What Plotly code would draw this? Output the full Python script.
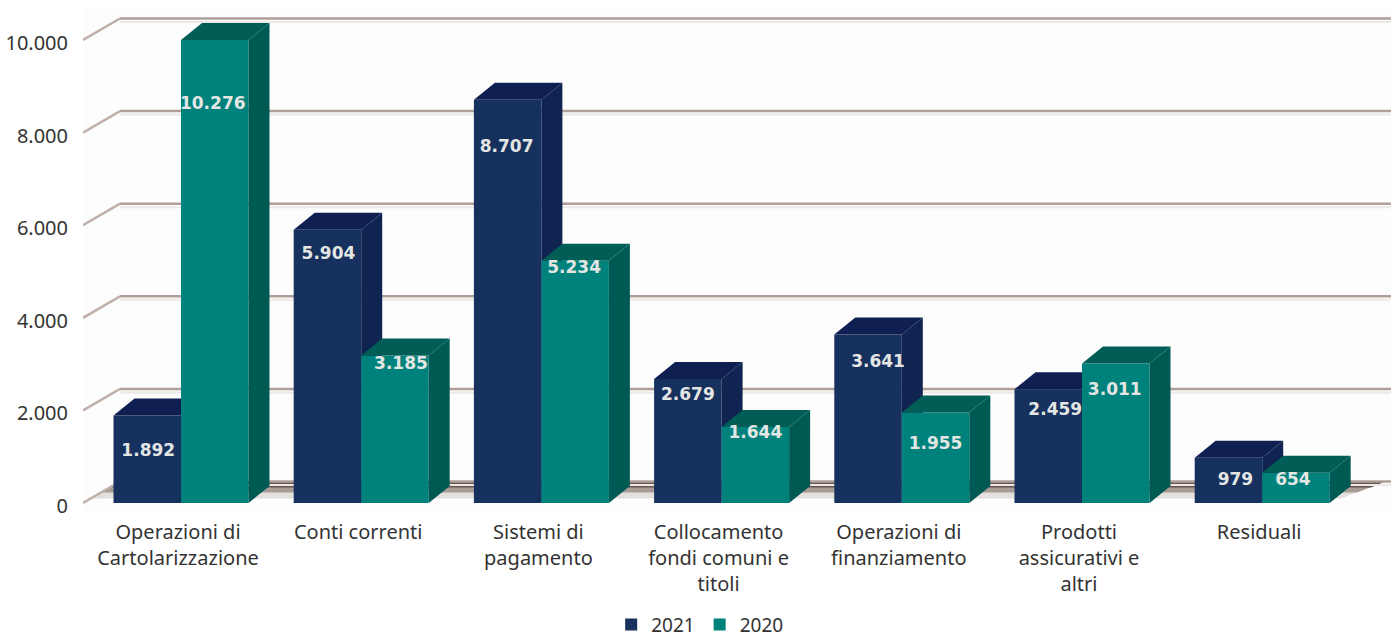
import plotly.graph_objects as go

categories = ["Operazioni di<br>Cartolarizzazione", "Conti correnti", "Sistemi di<br>pagamento",
              "Collocamento<br>fondi comuni e<br>titoli", "Operazioni di<br>finanziamento",
              "Prodotti<br>assicurativi e<br>altri", "Residuali"]
values_2021 = [1892, 5904, 8707, 2679, 3641, 2459, 979]
values_2020 = [10276, 3185, 5234, 1644, 1955, 3011, 654]
y_ticks = [0, 2000, 4000, 6000, 8000, 10000]
y_tick_labels = ["0", "2.000", "4.000", "6.000", "8.000", "10.000"]

# where the value labels sit in the picture, relative to the bar's front top / centre (pixels)
drop_2021 = [36, 25, 48, 17, 28, 22, 23]
drop_2020 = [65, 9, 8, 7, 32, 27, 8]
shift_2021 = [1, 1, -1, 0, 10, 7, 7]
shift_2020 = [-2, 6, -1, 0, 0, -1, -3]

# pixel geometry of the plot
W, H = 1391, 644
L, R, T, B = 83, 1391, 8, 512
STEP = 180.2          # px per category
C0 = 181              # px of first category centre
PX_UNIT = 0.0463      # px per value unit
Y0 = 503              # px of value 0 on the front plane
AX_MAX = 10000        # the bars are cut off at the axis maximum

xr = [(L - C0) / STEP, (R - C0) / STEP]
yr = [(Y0 - B) / PX_UNIT, (Y0 - T) / PX_UNIT]
dxpx = lambda p: p / STEP
dypx = lambda p: p / PX_UNIT

BAR_W = dxpx(67.5)
DX, DY = dxpx(21), dypx(17)           # bar depth
GX, GY = dxpx(37), dypx(21.5)         # wall depth

NAVY, NAVY_D, NAVY_S = "#17315f", "#101f52", "#0f2450"
TEAL, TEAL_D, TEAL_S = "#00827c", "#005e57", "#005a54"

fig = go.Figure()


def prism(vals, offset, front, top, side, yaxis, name):
    xs = [i + offset for i in range(len(vals))]
    shown = [min(v, AX_MAX) for v in vals]
    fig.add_trace(go.Bar(x=xs, y=shown, width=BAR_W, marker=dict(color=front, line=dict(width=0)),
                         name=name, yaxis=yaxis, hoverinfo="skip"))
    for x, v in zip(xs, shown):
        l, r = x - BAR_W / 2, x + BAR_W / 2
        fig.add_trace(go.Scatter(x=[l, l + DX, r + DX, r, l], y=[v, v + DY, v + DY, v, v], mode="lines",
                                 line=dict(width=0), fill="toself", fillcolor=top, yaxis=yaxis,
                                 showlegend=False, hoverinfo="skip"))
        fig.add_trace(go.Scatter(x=[r, r + DX, r + DX, r, r], y=[v, v + DY, DY, 0, v], mode="lines",
                                 line=dict(width=0), fill="toself", fillcolor=side, yaxis=yaxis,
                                 showlegend=False, hoverinfo="skip"))


half = BAR_W / 2
prism(values_2021, -half, NAVY, NAVY_D, NAVY_S, "y", "2021")
prism(values_2020, half, TEAL, TEAL_D, TEAL_S, "y2", "2020")


def fmt(v):
    return f"{v:,}".replace(",", ".")


lab_x, lab_y, lab_t = [], [], []
for vals, off, drops, shifts in ((values_2021, -half, drop_2021, shift_2021),
                                 (values_2020, half, drop_2020, shift_2020)):
    for i, v in enumerate(vals):
        lab_x.append(i + off + dxpx(shifts[i]))
        lab_y.append(min(v, AX_MAX) - dypx(drops[i]))
        lab_t.append(fmt(v))
fig.add_trace(go.Scatter(x=lab_x, y=lab_y, text=lab_t, mode="text", yaxis="y2", showlegend=False,
                         textfont=dict(family="DejaVu Sans", size=17, color="#e4e6e4", weight="bold"),
                         hoverinfo="skip", cliponaxis=False))

# back wall and floor
shapes = []
x_left, x_right = xr[0], xr[1]
for fill, depth, right_in in (("#e4e0dd", 17, 50), ("#a89c96", 11, 34), ("#645650", 6, 20)):
    shapes.append(dict(type="path", layer="below", line=dict(width=0), fillcolor=fill,
                       path=f"M {x_left + GX - dxpx(depth * 1.6)} {GY - dypx(depth)} L {x_left + GX} {GY} "
                            f"L {x_right - dxpx(6)} {GY} L {x_right - dxpx(right_in)} {GY - dypx(depth)} Z"))
for t in y_ticks:
    shapes.append(dict(type="line", layer="below", x0=x_left + GX, x1=x_right,
                       y0=t + GY - dypx(3.5), y1=t + GY - dypx(3.5), line=dict(color="#ece8e6", width=2)))
    shapes.append(dict(type="line", layer="below", x0=x_left + GX, x1=x_right, y0=t + GY, y1=t + GY,
                       line=dict(color="#b09e98", width=2.5)))
    shapes.append(dict(type="line", layer="below", x0=x_left, x1=x_left + GX, y0=t, y1=t + GY,
                       line=dict(color="#bfb0aa", width=2.5)))
fig.update_layout(shapes=shapes)

font = dict(family="Noto Sans", size=20, color="#333333")
fig.update_layout(
    width=W, height=H, autosize=False,
    margin=dict(l=L, r=W - R, t=T, b=H - B, pad=0),
    paper_bgcolor="#ffffff", plot_bgcolor="#fdfdfd",
    barmode="overlay", font=font, showlegend=True,
    legend=dict(orientation="h", x=0.503, xref="container", xanchor="center", y=0.03, yref="container",
                yanchor="middle", font=dict(family="Noto Sans", size=19, color="#333333"),
                itemclick=False, itemdoubleclick=False, traceorder="normal"),
    xaxis=dict(range=xr, tickmode="array", tickvals=list(range(len(categories))), ticktext=categories,
               showgrid=False, zeroline=False, showline=False, ticks="", tickfont=font,
               ticklabelstandoff=6, ticklabelshift=-3),
    yaxis=dict(range=yr, tickmode="array", tickvals=y_ticks, ticktext=y_tick_labels, showgrid=False,
               zeroline=False, showline=False, ticks="", tickfont=font, ticklabelstandoff=14, ticklabelshift=3),
    yaxis2=dict(range=yr, overlaying="y", visible=False),
)
fig.write_html("out.html", config=dict(displayModeBar=False),
               post_script="document.body.style.margin='0';document.body.style.overflow='hidden';")
